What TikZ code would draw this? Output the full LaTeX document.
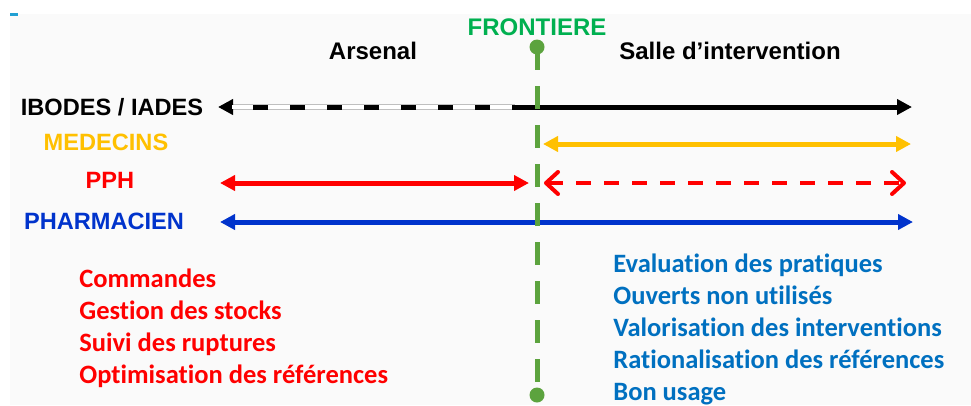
\documentclass[tikz,border=0pt]{standalone}
\usepackage{fontspec}
\setmainfont{Liberation Sans}
\newfontfamily\calibrifont[Ligatures=NoCommon]{Carlito}
\usetikzlibrary{arrows.meta}

\definecolor{frontgreen}{RGB}{0,176,80}
\definecolor{borderline}{RGB}{92,163,62}
\definecolor{medyellow}{RGB}{255,192,0}
\definecolor{pphred}{RGB}{255,0,0}
\definecolor{pharmablue}{RGB}{0,51,204}
\definecolor{taskblue}{RGB}{0,112,192}
\definecolor{paper}{RGB}{250,250,250}

\tikzset{every picture/.style={line width=0.75pt}}
\tikzset{
  zone/.style={font=\bfseries\fontsize{24}{28}\selectfont, inner sep=0pt},
  actor/.style={font=\bfseries\fontsize{23.6}{27}\selectfont, inner sep=0pt},
  task/.style={font=\calibrifont\bfseries\fontsize{26.5}{30}\selectfont, inner sep=0pt, anchor=base west},
  headtip/.tip={Triangle[length=15pt,width=15pt]},
  barbtip/.tip={Straight Barb[length=12pt,width=22pt,line width=4pt,round]},
  flow/.style={line width=5pt},
  dot/.style={circle, fill=borderline, inner sep=0pt, minimum size=15pt}
}

\begin{document}
\begin{tikzpicture}[x=1pt,y=1pt,yscale=-1]
    \useasboundingbox (0,0) rectangle (971,405);
    %Background
    \fill[paper] (10,14) rectangle (971,405);
    \fill[cyan!70!teal] (10,13) rectangle (18,15.5);

    % Text Node
    \node[zone, text=frontgreen] (frontiere) at (537,27) {FRONTIERE};
    % Text Node
    \node[zone] (arsenal) at (373,51) {Arsenal};
    % Text Node
    \node[zone] (salle) at (730,51) {Salle d’intervention};

    % Text Node
    \node[actor] (ibodes) at (112,107) {IBODES / IADES};
    % Text Node
    \node[actor, text=medyellow] (medecins) at (106,142) {MEDECINS};
    % Text Node
    \node[actor, text=pphred] (pph) at (110,180) {PPH};
    % Text Node
    \node[actor, text=pharmablue] (pharmacien) at (104,221) {PHARMACIEN};

    %arrow ends
    \coordinate (ib-l) at (218,107);
    \coordinate (ib-m) at (515,107);
    \coordinate (ib-r) at (912,107);
    \coordinate (me-l) at (543,144);
    \coordinate (me-r) at (911,144);
    \coordinate (pp-l) at (220,183);
    \coordinate (pp-m) at (529,183);
    \coordinate (pd-l) at (544,183);
    \coordinate (pd-r) at (906,183);
    \coordinate (ph-l) at (220,222);
    \coordinate (ph-r) at (913,222);

    %IBODES / IADES
    \draw[line width=6pt, black!25, {Triangle[length=15pt,width=15pt,color=black]}-] (ib-l) -- (ib-m);
    \draw[line width=4pt, white, shorten <=14pt] (ib-l) -- (ib-m);
    \draw[flow, dash pattern=on 15pt off 22pt, shorten <=35pt] (ib-l) -- (ib-m);
    \draw[flow, -{headtip}] (ib-m) -- (ib-r);
    %MEDECINS
    \draw[flow, medyellow, {headtip}-{headtip}] (me-l) -- (me-r);
    %PPH
    \draw[flow, pphred, {headtip}-{headtip}] (pp-l) -- (pp-m);
    \draw[line width=4pt, pphred, dash pattern=on 15pt off 13pt, {barbtip}-{barbtip}] (pd-l) -- (pd-r);
    %PHARMACIEN
    \draw[flow, pharmablue, {headtip}-{headtip}] (ph-l) -- (ph-r);

    %Frontier
    \node[dot] (top) at (537,47) {};
    \node[dot] (bottom) at (537,395) {};
    \draw[borderline, line width=5pt, dash pattern=on 23pt off 16pt] (top.center) -- (bottom.center);

    %Tasks
    \foreach \t [count=\i] in {Commandes, Gestion des stocks, Suivi des ruptures, Optimisation des références}
      \node[task, text=pphred] (arsenal-\i) at (79,254.7+32.3*\i) {\t};
    \foreach \t [count=\i] in {Evaluation des pratiques, Ouverts non utilisés, Valorisation des interventions, Rationalisation des références, Bon usage}
      \node[task, text=taskblue] (salle-\i) at (613,241+31.8*\i) {\t};

\end{tikzpicture}
\end{document}
